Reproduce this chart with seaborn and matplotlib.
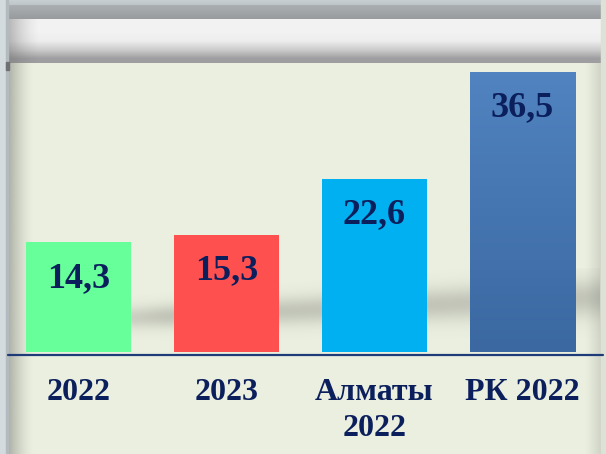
import numpy as np
import matplotlib
matplotlib.use("Agg")
import matplotlib.pyplot as plt
from matplotlib.colors import to_rgb, LinearSegmentedColormap
import seaborn as sns

# data
categories = ["2022", "2023", "Алматы\n2022", "РК 2022"]
values = [14.3, 15.3, 22.6, 36.5]
value_labels = ["14,3", "15,3", "22,6", "36,5"]
bar_colors = ["#66FF99", "#FF5050", "#00B0F0", "#4A7BB7"]

navy = "#0B1F5C"
bg = "#EBEFDF"

sns.set_theme(style="white")
plt.rcParams["font.family"] = ["Liberation Serif", "DejaVu Serif"]

W, H = 606, 454
fig = plt.figure(figsize=(W / 100, H / 100), dpi=100)
fig.patch.set_facecolor(bg)


def grad(ax, x0, x1, y0, y1, c0, c1, vertical=True, alpha=None, z=0):
    n = 64
    t = np.linspace(0, 1, n)
    a, b = np.array(to_rgb(c0)), np.array(to_rgb(c1))
    rgb = a[None, :] * (1 - t[:, None]) + b[None, :] * t[:, None]
    img = rgb[:, None, :] if vertical else rgb[None, :, :]
    if alpha is not None:
        al = np.asarray(alpha).reshape(img.shape[0], img.shape[1], 1)
        img = np.concatenate([img, al], axis=2)
    ax.imshow(img, extent=(x0, x1, y1, y0), aspect="auto",
              interpolation="bilinear", zorder=z)


# background decoration (pixel coordinates, y down)
bga = fig.add_axes([0, 0, 1, 1])
bga.set_xlim(0, W)
bga.set_ylim(H, 0)
bga.axis("off")
bga.add_patch(plt.Rectangle((0, 0), W, H, color=bg, zorder=0))
grad(bga, 0, W, 0, 5, "#C8CFD2", "#BFC6C9", z=1)
grad(bga, 0, W, 5, 19, "#ABAFB1", "#979B9D", z=1)
bga.imshow(np.array([[[0.95, 0.95, 0.95]] * 2,
                     [[0.95, 0.95, 0.95]] * 2,
                     [[0.93, 0.93, 0.93]] * 2,
                     [[0.80, 0.80, 0.80]] * 2,
                     [[0.62, 0.62, 0.63]] * 2]),
           extent=(0, W, 63, 19), aspect="auto", interpolation="bilinear", zorder=1)
# left shadow
n = 64
al = np.linspace(0.75, 0.0, n) ** 1.5
grad(bga, 6, 34, 63, H, "#7E807C", "#7E807C", vertical=False,
     alpha=al[None, :], z=2)
al = np.linspace(0.6, 0.0, n) ** 1.5
grad(bga, 8, 40, 19, 63, "#6E6E6E", "#6E6E6E", vertical=False,
     alpha=al[None, :], z=2)
bga.add_patch(plt.Rectangle((0, 0), 6, H, color="#D3DBDE", zorder=3))
bga.add_patch(plt.Rectangle((6, 0), 2, H, color="#B4BBBE", zorder=3))
bga.add_patch(plt.Rectangle((6, 62), 3, 8, color="#6E7072", zorder=3))
# right shadow
al = np.linspace(0.0, 0.35, n) ** 1.2
grad(bga, 585, 601, 63, H, "#8A8C88", "#8A8C88", vertical=False,
     alpha=al[None, :], z=2)
bga.add_patch(plt.Rectangle((601, 0), 5, H, color="#DDE2D6", zorder=3))
# soft floor shadow behind the bars
xs = np.linspace(0, 1, 128)
ys = np.linspace(0, 1, 64)
X, Y = np.meshgrid(xs, ys)
yc = 0.65 - 0.3 * X
sig = 0.11 + 0.12 * X
fl = 0.32 * np.exp(-((Y - yc) / sig) ** 2) * np.clip(X * 4, 0, 1)
fl_img = np.dstack([np.full_like(fl, 0.42), np.full_like(fl, 0.43),
                    np.full_like(fl, 0.40), fl])
bga.imshow(fl_img, extent=(20, 600, 352, 268), aspect="auto",
           interpolation="bilinear", zorder=2)

# main chart: bottom edge of axes = bar bottom (pixel 352)
base_px = 352
ax = fig.add_axes([0, (H - base_px) / H, 1, base_px / H])
ax.patch.set_alpha(0)
sns.barplot(x=categories, y=values, hue=categories, palette=bar_colors,
            legend=False, width=0.71, saturation=1, linewidth=0, ax=ax)
px_per_unit = 7.67
ax.set_ylim(0, base_px / px_per_unit)
ax.set_xlim(-78.5 / 148, (W - 78.5) / 148)

# gradient on the last bar
last = ax.patches[-1]
gx0, gw = last.get_x(), last.get_width()
img = ax.imshow(np.linspace(0, 1, 64)[:, None],
                cmap=LinearSegmentedColormap.from_list("b", ["#3B68A1", "#5083C0"]),
                extent=(gx0, gx0 + gw, 0, values[-1]),
                aspect="auto", origin="lower", zorder=3)
img.set_clip_path(last)

for i, (v, s) in enumerate(zip(values, value_labels)):
    ax.text(i, v - 5.8, s, ha="center", va="baseline", fontsize=26,
            fontweight="bold", color=navy, zorder=5)

ax.axhline(-3 / px_per_unit, xmin=8 / W, xmax=603 / W, color="#1F3A78",
           lw=1.6, clip_on=False, zorder=5)

ax.set_xticks(range(len(categories)))
ax.set_xticklabels(categories, fontsize=23, fontweight="bold", color=navy,
                   linespacing=1.3)
ax.tick_params(axis="x", length=0, pad=19)
ax.set_yticks([])
ax.set_ylabel("")
sns.despine(ax=ax, left=True, bottom=True)

fig.savefig("out.png", dpi=100, facecolor=bg)
